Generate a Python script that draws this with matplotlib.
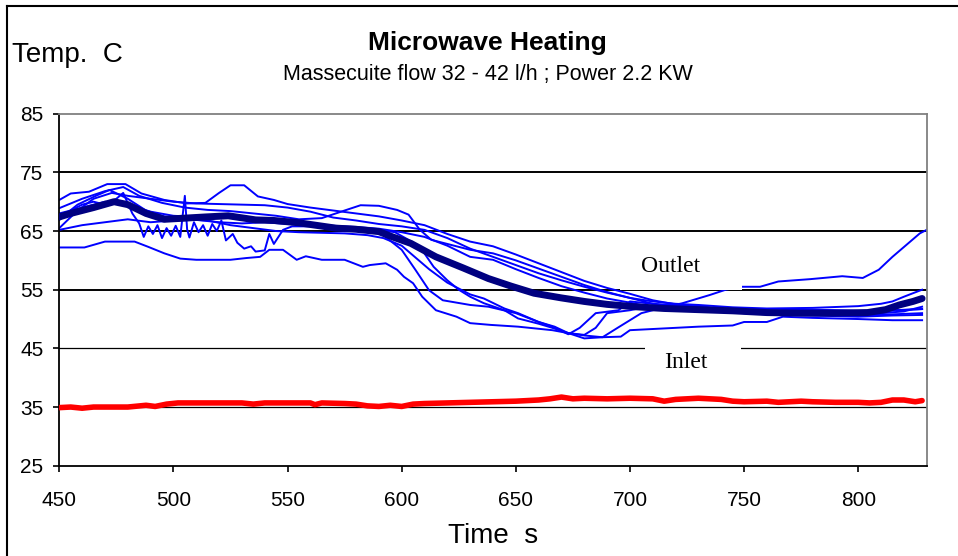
import matplotlib.pyplot as plt
from matplotlib.patches import Rectangle
from matplotlib.lines import Line2D

plt.rcParams['font.family'] = 'Liberation Sans'

# thin blue runs (time s, temp C)
t_b1 = [450, 455, 463, 471, 479, 486, 496, 506, 514, 520, 525, 531, 537, 544, 550, 560, 570, 580, 590,
        600, 610, 620, 630, 640, 650, 660, 670, 680, 690, 700, 710, 720, 730, 740, 760, 780, 800, 815, 828]
T_b1 = [70.3, 71.4, 71.7, 73.0, 73.0, 71.4, 70.3, 69.7, 69.8, 71.5, 72.8, 72.8, 70.9, 70.3, 69.6, 69.0, 68.5,
        68.0, 67.5, 66.8, 66.0, 64.5, 63.2, 62.4, 61.0, 59.5, 58.0, 56.5, 55.3, 54.3, 53.2, 52.5, 52.2, 51.8,
        51.5, 51.6, 51.4, 51.5, 51.7]

t_b2 = [450, 460, 470, 478, 485, 495, 505, 515, 525, 535, 545, 555, 565, 575, 582, 590, 598, 603, 608, 613,
        620, 630, 640, 650, 660, 670, 680, 690, 700, 710, 720, 735, 750, 770, 790, 810, 820, 828]
T_b2 = [68.9, 70.5, 71.8, 72.5, 71.0, 69.8, 69.0, 68.6, 68.4, 68.0, 67.6, 67.0, 67.2, 68.5, 69.4, 69.3, 68.6,
        67.8, 65.2, 63.5, 62.8, 61.8, 61.2, 60.0, 58.6, 57.2, 55.8, 54.6, 53.6, 52.6, 52.0, 51.5, 51.2, 51.0,
        51.2, 51.0, 51.3, 52.1]

t_b3 = [450, 455, 460, 465, 470, 475, 478, 482, 485, 487, 489, 491, 493, 495, 497, 499, 501, 503, 505, 506,
        507, 509, 511, 513, 515, 517, 519, 521, 523, 526, 528, 531, 534, 536, 540, 542, 544, 548, 552, 560,
        570, 580, 590, 600, 606, 612, 618, 630, 638, 650, 660, 667, 673, 680, 685, 690, 700, 710, 720, 740,
        760, 780, 800, 815, 828]
T_b3 = [66.9, 68.5, 69.5, 70.0, 69.5, 70.5, 71.5, 68.0, 66.3, 64.0, 65.8, 64.5, 66.0, 63.8, 65.5, 64.2, 65.9,
        64.0, 71.0, 65.3, 63.9, 66.5, 64.8, 66.0, 64.2, 66.2, 65.0, 66.8, 63.4, 64.5, 63.0, 62.0, 62.4, 61.5,
        61.7, 64.5, 62.8, 65.2, 65.8, 65.8, 65.5, 65.3, 64.9, 61.8, 58.4, 54.9, 53.2, 52.4, 52.1, 51.0, 49.5,
        48.7, 47.6, 47.3, 48.5, 51.0, 51.5, 52.3, 52.0, 51.2, 50.8, 50.6, 50.4, 50.6, 50.7]

t_b4 = [450, 461, 470, 483, 489, 496, 503, 510, 525, 532, 538, 542, 548, 554, 558, 565, 575, 583, 586, 593,
        598, 601, 605, 609, 615, 624, 630, 639, 651, 666, 673, 680, 688, 695, 705, 715, 723, 735, 742, 749,
        757, 765, 779, 793, 802, 809, 815, 821, 827, 830]
T_b4 = [62.2, 62.2, 63.2, 63.2, 62.3, 61.2, 60.3, 60.1, 60.1, 60.4, 60.6, 61.8, 61.8, 60.1, 60.7, 60.1, 60.1,
        58.9, 59.2, 59.5, 58.4, 57.2, 56.1, 53.8, 51.5, 50.4, 49.3, 49.0, 48.7, 48.1, 47.6, 46.7, 46.9, 48.6,
        51.0, 52.0, 52.7, 54.1, 55.0, 55.5, 55.5, 56.4, 56.8, 57.3, 57.0, 58.4, 60.6, 62.6, 64.6, 65.2]

t_b5 = [450, 460, 470, 480, 490, 500, 510, 520, 530, 540, 550, 560, 570, 580, 590, 597, 603, 608, 614, 620,
        625, 630, 636, 645, 651, 660, 666, 673, 680, 688, 696, 700, 710, 720, 730, 745, 750, 760, 767, 780,
        800, 815, 828]
T_b5 = [65.2, 66.0, 66.5, 67.0, 66.5, 66.8, 66.9, 66.5, 66.3, 66.5, 66.2, 66.4, 65.8, 65.5, 65.2, 64.8, 63.5,
        62.3, 58.9, 56.6, 55.0, 53.8, 52.7, 51.5, 50.1, 49.2, 48.5, 47.6, 47.2, 46.9, 47.0, 48.1, 48.3, 48.5,
        48.7, 48.9, 49.5, 49.5, 50.4, 50.2, 50.0, 49.8, 49.8]

t_b6 = [450, 458, 465, 473, 480, 490, 500, 510, 520, 530, 540, 550, 560, 570, 580, 590, 600, 610, 620, 630,
        640, 650, 660, 670, 680, 690, 700, 710, 720, 730, 745, 760, 780, 800, 810, 815, 820, 828]
T_b6 = [65.5, 68.5, 70.5, 71.5, 71.0, 70.5, 70.0, 69.7, 69.6, 69.5, 69.4, 69.0, 68.3, 67.3, 66.8, 66.2, 65.8,
        65.2, 63.8, 62.0, 60.6, 59.2, 57.8, 56.6, 55.5, 54.5, 53.6, 53.0, 52.6, 52.4, 52.0, 51.8, 51.9, 52.2,
        52.6, 53.0, 53.8, 55.0]

t_b7 = [450, 460, 470, 480, 490, 500, 510, 520, 530, 540, 550, 560, 570, 580, 590, 600, 610, 620, 630, 640,
        650, 660, 670, 680, 690, 700, 710, 720, 740, 760, 780, 800, 815, 828]
T_b7 = [68.0, 69.0, 70.0, 69.5, 68.3, 67.6, 67.4, 67.8, 67.0, 66.8, 66.5, 66.2, 65.9, 65.7, 65.4, 64.8, 64.0,
        62.5, 60.6, 60.1, 58.5, 57.0, 55.6, 54.5, 53.5, 52.8, 52.0, 51.6, 51.2, 50.9, 50.8, 50.6, 50.8, 51.0]

t_b8 = [450, 458, 466, 472, 480, 488, 496, 505, 515, 525, 535, 545, 555, 565, 575, 585, 592, 600, 606, 612,
        620, 630, 636, 645, 651, 660, 666, 673, 678, 685, 695, 700, 710, 725, 745, 765, 785, 805, 818, 828]
T_b8 = [67.0, 69.5, 71.0, 72.0, 70.5, 68.5, 67.5, 67.0, 66.8, 66.0, 65.5, 65.0, 64.8, 64.7, 64.6, 64.3, 63.8,
        62.5, 60.5, 58.5, 56.2, 54.2, 53.5, 51.8, 51.0, 49.5, 48.7, 47.4, 48.5, 51.0, 51.5, 53.0, 52.6, 52.2,
        51.6, 51.4, 51.5, 51.3, 51.5, 51.7]

# thick navy outlet average
t_mean = [450, 455, 460, 465, 474, 480, 488, 496, 505, 514, 524, 536, 544, 555, 571, 580, 590, 596, 604, 615,
          627, 638, 648, 658, 670, 680, 690, 702, 715, 730, 745, 760, 775, 789, 804, 812, 818, 824, 828]
T_mean = [67.4, 68.0, 68.5, 69.0, 70.0, 69.5, 68.0, 67.0, 67.2, 67.4, 67.6, 66.9, 66.8, 66.4, 65.5, 65.3, 64.9,
          64.0, 62.9, 60.6, 58.7, 56.9, 55.6, 54.4, 53.6, 53.0, 52.5, 52.1, 51.8, 51.6, 51.4, 51.1, 51.0, 51.0,
          51.1, 51.6, 52.4, 53.0, 53.5]

# inlet
t_in = [450, 455, 460, 465, 480, 488, 492, 497, 502, 510, 520, 530, 535, 540, 560, 562, 565, 575, 580, 585,
        590, 595, 600, 605, 610, 620, 630, 640, 650, 655, 660, 665, 670, 675, 680, 690, 700, 710, 715, 720,
        730, 740, 745, 750, 760, 765, 775, 780, 790, 800, 805, 810, 815, 820, 825, 828]
T_in = [34.9, 35.0, 34.8, 35.0, 35.0, 35.3, 35.1, 35.5, 35.7, 35.7, 35.7, 35.7, 35.5, 35.7, 35.7, 35.4, 35.7,
        35.6, 35.5, 35.2, 35.1, 35.3, 35.1, 35.5, 35.6, 35.7, 35.8, 35.9, 36.0, 36.1, 36.2, 36.4, 36.7, 36.4,
        36.5, 36.4, 36.5, 36.4, 36.0, 36.3, 36.5, 36.3, 36.0, 35.9, 36.0, 35.8, 36.0, 35.9, 35.8, 35.8, 35.7,
        35.8, 36.2, 36.2, 35.9, 36.1]

blue_runs = [(t_b1, T_b1), (t_b2, T_b2), (t_b3, T_b3), (t_b4, T_b4),
             (t_b5, T_b5), (t_b6, T_b6), (t_b7, T_b7), (t_b8, T_b8)]

y_ticks = [25, 35, 45, 55, 65, 75, 85]
x_ticks = [450, 500, 550, 600, 650, 700, 750, 800]

fig = plt.figure(figsize=(9.58, 5.56), dpi=100)
ax = fig.add_axes([0.0619, 0.1624, 0.9054, 0.6331])

# gridlines
for lvl in [75, 65, 55]:
    ax.axhline(lvl, color='black', lw=1.4, zorder=1)
for lvl in [45, 35]:
    ax.axhline(lvl, color='black', lw=0.9, zorder=1)

for t, T in blue_runs:
    ax.plot(t, T, color='#0000FF', lw=1.4, zorder=2)
ax.plot(t_mean, T_mean, color='#000080', lw=5, solid_capstyle='round', solid_joinstyle='round', zorder=3)
ax.plot(t_in, T_in, color='#FF0000', lw=4, solid_capstyle='round', solid_joinstyle='round', zorder=3)

# white label boxes
ax.add_patch(Rectangle((695.5, 55.0), 53.4, 7.5, facecolor='white', edgecolor='none', zorder=4))
ax.add_patch(Rectangle((706.4, 40.0), 42.1, 6.5, facecolor='white', edgecolor='none', zorder=4))
ax.text(717.8, 59.0, 'Outlet', family='Liberation Serif', fontsize=17, ha='center', va='center', zorder=5)
ax.text(724.4, 42.6, 'Inlet', family='Liberation Serif', fontsize=17, ha='center', va='center', zorder=5)

ax.set_xlim(450, 830)
ax.set_ylim(25, 85)
ax.set_xticks(x_ticks)
ax.set_yticks(y_ticks)
ax.tick_params(axis='both', direction='out', length=4.3, width=1.2, labelsize=15, color='black')
ax.tick_params(axis='x', pad=14)
ax.tick_params(axis='y', pad=7)

for side in ['left', 'bottom']:
    ax.spines[side].set_color('black')
    ax.spines[side].set_linewidth(1.3)
for side in ['top', 'right']:
    ax.spines[side].set_color('#808080')
    ax.spines[side].set_linewidth(1.3)

fig.text(0.0125, 0.8885, 'Temp.  C', fontsize=20, ha='left', va='baseline')
fig.text(0.5089, 0.910, 'Microwave Heating', fontsize=19, fontweight='bold', ha='center', va='baseline')
fig.text(0.5094, 0.856, 'Massecuite flow 32 - 42 l/h ; Power 2.2 KW', fontsize=15.5, ha='center', va='baseline')
fig.text(0.5146, 0.0225, 'Time  s', fontsize=20, ha='center', va='baseline')

# outer chart frame (left and top edges)
fig.add_artist(Line2D([6.5 / 958, 6.5 / 958], [0, 1 - 5.7 / 556], color='black', lw=1.5))
fig.add_artist(Line2D([6.5 / 958, 1], [1 - 5.7 / 556, 1 - 5.7 / 556], color='black', lw=1.5))

fig.savefig('out.png', dpi=100)
